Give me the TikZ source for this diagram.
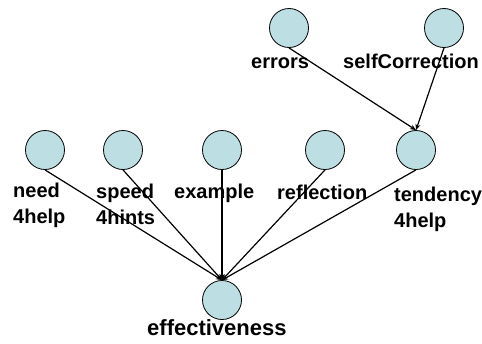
\documentclass[tikz,border=0pt]{standalone}
\usepackage{fontspec}
\setmainfont{Liberation Sans}
\usetikzlibrary{arrows.meta}
\definecolor{nodefill}{RGB}{189,223,227}
\begin{document}
\begin{tikzpicture}[x=1pt,y=-1pt,
  var/.style={circle,draw=black,line width=0.8pt,fill=nodefill,minimum size=39pt,inner sep=0pt},
  lbl/.style={anchor=base west,inner sep=0pt,align=left,font=\fontsize{20}{26}\selectfont\bfseries},
  bigl/.style={anchor=base west,inner sep=0pt,font=\fontsize{22}{26}\selectfont\bfseries},
  edge/.style={line width=1.2pt,-{Stealth[length=6pt,width=5pt]}}]
\useasboundingbox (0,0) rectangle (482,343);
\node[var] (err) at (289,28) {};
\node[var] (self) at (444,28) {};
\node[var] (need) at (45,150) {};
\node[var] (speed) at (123,150) {};
\node[var] (ex) at (222,150) {};
\node[var] (refl) at (325,150) {};
\node[var] (tend) at (416,150) {};
\node[var] (eff) at (222,300) {};
\node[lbl] (errl) at (251,68) {errors};
\node[lbl] (selfl) at (343,68) {selfCorrection};
\node[lbl] (needl) at (13,223) {need\\4help};
\node[lbl] (speedl) at (96,224) {speed\\4hints};
\node[lbl] (exl) at (174,198) {example};
\node[lbl] (refll) at (277,199) {reflection};
\node[lbl] (tendl) at (394,227) {tendency\\4help};
\node[bigl] (effl) at (147,335) {effectiveness};
\draw[edge] (err.south) -- (tend.north);
\draw[edge] (self.south) -- (tend.north);
\foreach \s in {need,speed,ex,refl,tend}
  \draw[edge] (\s.south) -- (eff.north);
\end{tikzpicture}
\end{document}
